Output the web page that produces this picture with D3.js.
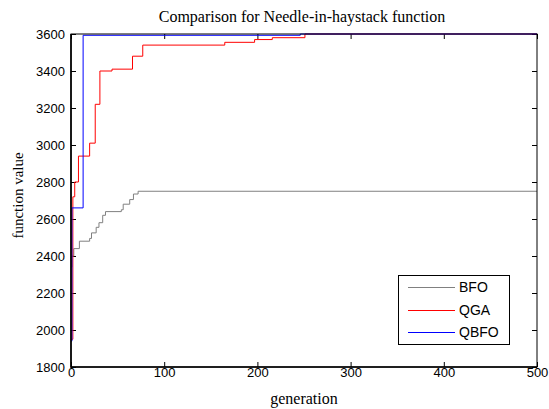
<!DOCTYPE html>
<html>
<head>
<meta charset="utf-8">
<script src="https://cdn.jsdelivr.net/npm/d3@7"></script>
<style>
  body { margin: 0; background: #fff; }
  svg { display: block; }
</style>
</head>
<body>
<svg id="chart" width="549" height="409"></svg>
<script>
// series (generation, best function value)
const bfoGen = [0, 1, 3, 9, 20, 22, 27, 30, 34, 37, 54, 56, 63, 67, 72, 500];
const bfoVal = [2340, 2400, 2440, 2480, 2495, 2525, 2555, 2580, 2620, 2640, 2650, 2680, 2705, 2735, 2750, 2750];

const qgaGen = [0, 2, 4, 8, 20, 26, 31, 44, 66, 77, 165, 197, 216, 251, 500];
const qgaVal = [1950, 2720, 2800, 2940, 3010, 3220, 3400, 3410, 3480, 3540, 3555, 3570, 3580, 3600, 3600];

const qbfoGen = [0, 1, 13, 246, 500];
const qbfoVal = [1940, 2660, 3593, 3600, 3600];

const seriesNames = ["BFO", "QGA", "QBFO"];
const seriesColors = ["#808080", "#ff0000", "#0000ff"];

const xTicks = [0, 100, 200, 300, 400, 500];
const yTicks = [1800, 2000, 2200, 2400, 2600, 2800, 3000, 3200, 3400, 3600];

function drawChart() {
    const svg = d3.select("#chart");
    const left = 71, right = 537, top = 34, bottom = 367;
    const serif = "Liberation Serif, Times New Roman, serif";
    const sans = "Liberation Sans, Arial, sans-serif";

    const x = d3.scaleLinear().domain([0, 500]).range([left, right]);
    const y = d3.scaleLinear().domain([1800, 3600]).range([bottom, top]);

    svg.append("rect")
        .attr("width", 549).attr("height", 409).attr("fill", "#fff");

    // title
    svg.append("text")
        .attr("x", (left + right) / 2 - 2)
        .attr("y", 22)
        .attr("text-anchor", "middle")
        .attr("font-family", serif)
        .attr("font-size", 16)
        .text("Comparison for Needle-in-haystack function");

    // axes, ticks pointing inward
    const xAxis = svg.append("g")
        .attr("transform", `translate(0,${bottom})`)
        .call(d3.axisBottom(x).tickValues(xTicks).tickFormat(d3.format("d"))
            .tickSizeInner(-5).tickSizeOuter(0).tickPadding(1));
    const yAxis = svg.append("g")
        .attr("transform", `translate(${left},0)`)
        .call(d3.axisLeft(y).tickValues(yTicks).tickFormat(d3.format("d"))
            .tickSizeInner(-5).tickSizeOuter(0).tickPadding(6));
    svg.append("g")
        .attr("transform", `translate(0,${top})`)
        .call(d3.axisTop(x).tickValues(xTicks).tickSizeInner(-5).tickSizeOuter(0).tickFormat(""));
    svg.append("g")
        .attr("transform", `translate(${right},0)`)
        .call(d3.axisRight(y).tickValues(yTicks).tickSizeInner(-5).tickSizeOuter(0).tickFormat(""));

    svg.selectAll(".domain").remove();
    svg.selectAll(".tick line").attr("stroke", "#000");
    [xAxis, yAxis].forEach(a => a.selectAll("text")
        .attr("font-family", sans)
        .attr("font-size", 13)
        .attr("fill", "#000"));

    // series
    const line = d3.line()
        .x(d => x(d[0]))
        .y(d => y(d[1]))
        .curve(d3.curveStepAfter);

    const series = [
        d3.zip(bfoGen, bfoVal),
        d3.zip(qgaGen, qgaVal),
        d3.zip(qbfoGen, qbfoVal)
    ];
    series.forEach((pts, i) => {
        svg.append("path")
            .datum(pts)
            .attr("fill", "none")
            .attr("stroke", seriesColors[i])
            .attr("stroke-width", 1)
            .attr("d", line);
    });

    // plot box
    svg.append("rect")
        .attr("x", left).attr("y", top)
        .attr("width", right - left).attr("height", bottom - top)
        .attr("fill", "none")
        .attr("stroke", "#000")
        .attr("stroke-width", 1);
    svg.append("path")
        .attr("d", `M${left},${top}V${bottom}H${right}`)
        .attr("fill", "none")
        .attr("stroke", "#000")
        .attr("stroke-width", 1.6);

    // axis labels
    svg.append("text")
        .attr("x", (left + right) / 2)
        .attr("y", 404)
        .attr("text-anchor", "middle")
        .attr("font-family", serif)
        .attr("font-size", 16)
        .text("generation");
    svg.append("text")
        .attr("transform", `translate(23,${(top + bottom) / 2 - 5}) rotate(-90)`)
        .attr("text-anchor", "middle")
        .attr("font-family", serif)
        .attr("font-size", 15)
        .text("function value");

    // legend
    const lg = svg.append("g");
    lg.append("rect")
        .attr("x", 398.5).attr("y", 275.5)
        .attr("width", 111).attr("height", 69)
        .attr("fill", "#fff")
        .attr("stroke", "#000")
        .attr("stroke-width", 1);
    seriesNames.forEach((name, i) => {
        const ly = Math.round(287 + i * 22.5) + 0.5;
        lg.append("line")
            .attr("x1", 408).attr("x2", 455)
            .attr("y1", ly).attr("y2", ly)
            .attr("stroke", seriesColors[i])
            .attr("stroke-width", 1);
        lg.append("text")
            .attr("x", 459).attr("y", ly)
            .attr("dy", "0.35em")
            .attr("font-family", sans)
            .attr("font-size", 14)
            .attr("fill", "#000")
            .text(name);
    });
}

drawChart();
</script>
</body>
</html>
